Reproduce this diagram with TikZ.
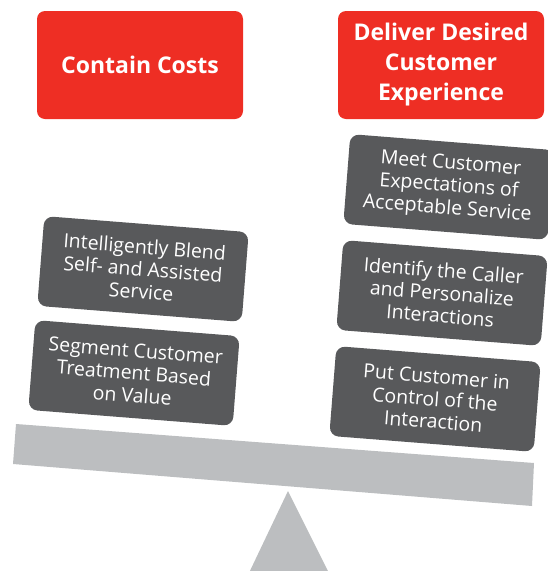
\documentclass[tikz,border=0pt]{standalone}
\usepackage{fontspec}
\setmainfont{Open Sans}
\definecolor{goalred}{HTML}{EE2E24}
\definecolor{tactic}{HTML}{58595B}
\definecolor{beam}{HTML}{BCBEC0}
\begin{document}
\begin{tikzpicture}[x=1pt,y=-1pt,
  goal/.style={rectangle, rounded corners=8pt, fill=goalred, text=white,
    minimum width=206pt, minimum height=108pt, align=center,
    font=\bfseries\fontsize{23}{30}\selectfont},
  tacticbox/.style={rectangle, rounded corners=9pt, fill=tactic, text=white,
    minimum width=205pt, minimum height=90pt, align=center, rotate=-4.5,
    inner sep=0pt, font=\fontsize{19.5}{22.5}\selectfont}]
\useasboundingbox (0,0) rectangle (547,571);

% balance: fulcrum and tilted beam
\fill[beam] (288,491) -- (330,575) -- (248,575) -- cycle;
\fill[beam] (16,424) -- (534,463) -- (532,506) -- (13,464) -- cycle;

% the two goals
\node[goal] (costs) at (140,65) {Contain Costs};
\node[goal] (experience) at (441,65) {Deliver Desired\\Customer\\Experience};

% cost-side tactics
\node[tacticbox] (blend) at (143,269) {Intelligently Blend\\Self- and Assisted\\Service};
\node[tacticbox] (segment) at (134,373) {Segment Customer\\Treatment Based\\on Value};

% experience-side tactics
\node[tacticbox] (meet) at (449,187) {Meet Customer\\Expectations of\\Acceptable Service};
\node[tacticbox] (identify) at (442,293) {Identify the Caller\\and Personalize\\Interactions};
\node[tacticbox] (control) at (435,399) {Put Customer in\\Control of the\\Interaction};
\end{tikzpicture}
\end{document}
